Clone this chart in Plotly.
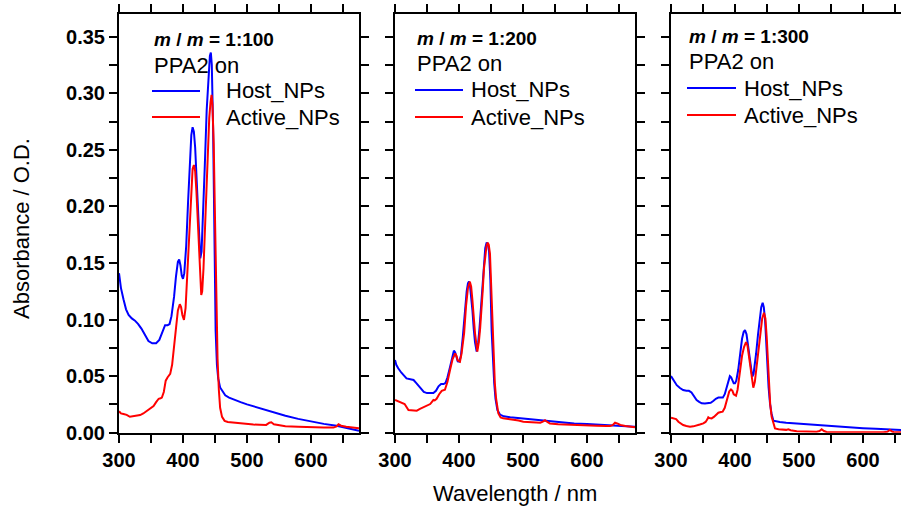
import plotly.graph_objects as go

# ---------------- data ----------------
panel_labels = ["1:100", "1:200", "1:300"]
series_names = ["Host_NPs", "Active_NPs"]

wl_host_1 = [300, 303, 307, 311, 315, 320, 325, 330, 335, 340, 346, 352, 358, 363, 368, 372, 376, 379, 382, 386,
             389, 392, 394, 396, 398, 400, 402, 405, 408, 411, 413, 415, 417, 419, 421, 423, 425, 427, 429, 431,
             434, 437, 440, 442, 443.5, 445, 447, 449, 451, 453, 455, 458, 462, 466, 472, 480, 490, 500, 520, 540,
             560, 580, 600, 620, 640, 660, 675]
abs_host_1 = [0.141, 0.128, 0.118, 0.109, 0.104, 0.101, 0.099, 0.096, 0.092, 0.087, 0.081, 0.079, 0.079, 0.082, 0.089, 0.095, 0.095, 0.096, 0.103, 0.120,
              0.138, 0.151, 0.153, 0.148, 0.139, 0.136, 0.141, 0.165, 0.205, 0.245, 0.263, 0.270, 0.266, 0.252, 0.228, 0.197, 0.168, 0.154, 0.160, 0.185,
              0.235, 0.285, 0.322, 0.333, 0.336, 0.325, 0.270, 0.170, 0.090, 0.060, 0.048, 0.040, 0.036, 0.033, 0.031, 0.029, 0.027, 0.025, 0.0215, 0.018,
              0.0150, 0.0122, 0.0097, 0.0078, 0.0062, 0.0038, 0.0018]

wl_act_1 = [300, 303, 307, 312, 317, 322, 328, 333, 338, 343, 348, 354, 358, 362, 365, 367, 370, 373, 376, 380,
            383, 386, 389, 392, 395, 397, 399, 401.5, 404, 407, 410, 413, 415, 417, 419, 421, 423, 425, 427, 428.5,
            430, 432, 435, 438, 441, 443, 444.6, 446, 448, 450, 452, 454, 456, 458, 461, 465, 470, 480, 490, 500,
            510, 520, 530, 535, 538, 542, 550, 560, 580, 600, 620, 635, 640, 643, 647, 655, 665, 675]
abs_act_1 = [0.0190, 0.0170, 0.0165, 0.0158, 0.0141, 0.0145, 0.0150, 0.0156, 0.0170, 0.0190, 0.0210, 0.0235, 0.0270, 0.0300, 0.0305, 0.0310, 0.0360, 0.0460, 0.0490, 0.0520,
             0.060, 0.075, 0.092, 0.108, 0.1135, 0.111, 0.104, 0.0996, 0.110, 0.145, 0.185, 0.220, 0.233, 0.2366, 0.231, 0.213, 0.188, 0.158, 0.130, 0.1217,
             0.125, 0.145, 0.190, 0.240, 0.278, 0.292, 0.2985, 0.290, 0.255, 0.190, 0.115, 0.065, 0.038, 0.022, 0.014, 0.0105, 0.0095, 0.0088, 0.0080, 0.0074,
             0.0072, 0.0070, 0.0069, 0.0088, 0.0092, 0.0075, 0.0065, 0.0058, 0.0053, 0.0047, 0.0045, 0.0045, 0.0055, 0.0074, 0.0062, 0.0052, 0.0045, 0.0039]

wl_host_2 = [300, 302, 305, 310, 318, 324, 329, 333, 337, 341, 345, 350, 355, 360, 364, 368, 372, 376, 379, 382,
             386, 389, 392, 394, 396, 398, 400.5, 403, 406, 409, 412, 414, 415.6, 417, 419, 421, 423, 425, 427.6, 430,
             432, 435, 438, 441, 443.2, 445, 447, 449, 451, 453, 455, 457, 460, 464, 470, 480, 490, 500, 520, 537,
             560, 580, 600, 620, 640, 660, 675]
abs_host_2 = [0.0642, 0.060, 0.0569, 0.053, 0.048, 0.047, 0.0466, 0.044, 0.041, 0.038, 0.036, 0.035, 0.0348, 0.035, 0.037, 0.041, 0.043, 0.043, 0.044, 0.049,
              0.058, 0.066, 0.0725, 0.071, 0.067, 0.063, 0.0628, 0.068, 0.085, 0.108, 0.125, 0.132, 0.1335, 0.131, 0.122, 0.108, 0.092, 0.080, 0.0716, 0.080,
              0.092, 0.117, 0.145, 0.163, 0.168, 0.167, 0.160, 0.135, 0.090, 0.062, 0.044, 0.030, 0.020, 0.0160, 0.0145, 0.0136, 0.0130, 0.0124, 0.0113, 0.0103,
              0.0090, 0.0082, 0.0077, 0.0072, 0.0066, 0.0059, 0.0053]

wl_act_2 = [300, 305, 310, 315, 321, 328, 334, 339, 344, 350, 355, 358, 360, 362, 365, 369, 373, 378, 382, 386,
            390, 394, 396, 398, 401.5, 404, 408, 411, 414, 417, 419, 421, 423, 425, 428.6, 431, 433, 435, 437, 439,
            441, 443, 444.8, 446.5, 448.4, 450.5, 452.6, 454.5, 456, 458, 461.5, 465, 469, 477, 485, 493, 500.5, 510, 520, 527,
            531, 534.4, 538, 542, 555, 578.6, 600, 615, 630, 636, 640, 643.8, 648, 652, 660, 675]
abs_act_2 = [0.0289, 0.0275, 0.0265, 0.0253, 0.0200, 0.0195, 0.0195, 0.0210, 0.0224, 0.0240, 0.0253, 0.0275, 0.0289, 0.0285, 0.0300, 0.0340, 0.0370, 0.0380, 0.0450, 0.0554,
             0.065, 0.070, 0.068, 0.064, 0.0628, 0.070, 0.088, 0.112, 0.128, 0.1335, 0.129, 0.117, 0.102, 0.088, 0.0716, 0.080, 0.092, 0.106, 0.125, 0.145,
             0.158, 0.165, 0.168, 0.166, 0.158, 0.125, 0.088, 0.060, 0.0436, 0.030, 0.017, 0.0135, 0.0127, 0.0122, 0.0118, 0.0108, 0.0097, 0.0093, 0.0090, 0.0088,
             0.0098, 0.0110, 0.0095, 0.0082, 0.0075, 0.0068, 0.0064, 0.0062, 0.0060, 0.0059, 0.0066, 0.0088, 0.0080, 0.0068, 0.0060, 0.0047]

wl_host_3 = [300, 304, 309, 314, 319, 324, 328, 332, 336, 340, 344, 348, 353, 358, 362, 366, 370, 374, 378, 381,
             384, 387, 390, 392, 394, 396, 398, 400, 402, 405, 408, 411, 413.5, 415.6, 418, 420.8, 423, 425, 427, 429,
             431, 433, 436, 439, 441, 443.2, 445, 447, 449, 450.5, 452.5, 454.7, 457, 460, 465, 470, 480, 500, 520, 540,
             560, 580, 600, 620, 640, 660]
abs_host_3 = [0.050, 0.046, 0.042, 0.0395, 0.0377, 0.037, 0.037, 0.0355, 0.032, 0.0289, 0.0272, 0.026, 0.0258, 0.026, 0.0265, 0.028, 0.030, 0.031, 0.031, 0.031,
              0.034, 0.0407, 0.047, 0.050, 0.049, 0.046, 0.0436, 0.0436, 0.046, 0.0554, 0.070, 0.083, 0.089, 0.0907, 0.087, 0.076, 0.065, 0.056, 0.0495, 0.052,
              0.060, 0.070, 0.087, 0.103, 0.111, 0.1149, 0.111, 0.0996, 0.078, 0.058, 0.040, 0.026, 0.017, 0.0106, 0.0098, 0.0095, 0.0088, 0.0079, 0.0070, 0.0062,
              0.0055, 0.0047, 0.0040, 0.0034, 0.0028, 0.0024]

wl_act_3 = [300, 304, 308, 311.5, 315, 319, 324, 329.7, 335, 340, 345, 350.5, 354, 357, 358.3, 360, 363.5, 367, 371, 374,
            378, 380.7, 384, 388, 391, 393.7, 396, 398, 401.6, 404, 407.8, 411, 414, 415.6, 417.2, 419.5, 422.4, 425, 427, 428.6,
            431, 434.9, 438, 440, 442.5, 445.3, 447.5, 449.5, 451.5, 453, 455, 457.3, 460, 462.5, 468, 475.5, 480, 483.3, 487, 496.4,
            510, 527.6, 532, 535.4, 539, 543, 560, 579.7, 600, 631.8, 638, 642, 646, 650, 659.4]
abs_act_3 = [0.0133, 0.0125, 0.0120, 0.0097, 0.0085, 0.0068, 0.0060, 0.0053, 0.0056, 0.0062, 0.0072, 0.0082, 0.0095, 0.0120, 0.0136, 0.0130, 0.0127, 0.0140, 0.0165, 0.0177,
             0.0183, 0.0186, 0.0220, 0.0318, 0.0365, 0.0383, 0.0370, 0.0340, 0.0327, 0.0380, 0.0554, 0.0680, 0.0755, 0.0775, 0.0800, 0.0770, 0.0640, 0.0520, 0.0440, 0.0398,
             0.045, 0.064, 0.082, 0.091, 0.101, 0.106, 0.101, 0.085, 0.062, 0.0407, 0.025, 0.0141, 0.0075, 0.0038, 0.0030, 0.0024, 0.0025, 0.0030, 0.0022, 0.0012,
             0.0010, 0.0009, 0.0015, 0.0030, 0.0015, 0.0006, 0.0004, 0.0003, 0.0003, 0.0003, 0.0008, 0.0024, 0.0008, 0.0003, 0.0003]

x_ticks = [300, 400, 500, 600]
y_ticks = [0.00, 0.05, 0.10, 0.15, 0.20, 0.25, 0.30, 0.35]
y_tick_text = ["0.00", "0.05", "0.10", "0.15", "0.20", "0.25", "0.30", "0.35"]

panels = [
    (wl_host_1, abs_host_1, wl_act_1, abs_act_1),
    (wl_host_2, abs_host_2, wl_act_2, abs_act_2),
    (wl_host_3, abs_host_3, wl_act_3, abs_act_3),
]
for a, b, c, d in panels:
    assert len(a) == len(b), (len(a), len(b))
    assert len(c) == len(d), (len(c), len(d))

# ---------------- layout geometry ----------------
W, H = 901, 506
COL_HOST = "#0000FF"
COL_ACT = "#FF0000"
FONT = "Liberation Sans, Arial, sans-serif"

x_px = [(119, 359), (395, 635), (671, 901)]
x_ranges = [[300, 675], [300, 675], [300, 300 + 230 / 0.64]]
y_top, y_bot = 14, 432.7
y_range = [0, 0.37]

fig = go.Figure()

for i, (wh, ah, wa, aa) in enumerate(panels):
    n = "" if i == 0 else str(i + 1)
    fig.add_trace(go.Scatter(x=wh, y=ah, mode="lines", name=series_names[0],
                             line=dict(color=COL_HOST, width=2), xaxis="x" + n, yaxis="y" + n,
                             showlegend=False))
    fig.add_trace(go.Scatter(x=wa, y=aa, mode="lines", name=series_names[1],
                             line=dict(color=COL_ACT, width=2), xaxis="x" + n, yaxis="y" + n,
                             showlegend=False))

    xa = dict(domain=[x_px[i][0] / W, x_px[i][1] / W], range=x_ranges[i], anchor="y" + n,
              automargin=False,
              tickvals=x_ticks, ticks="outside", ticklen=8, tickwidth=2, tickcolor="black",
              minor=dict(dtick=50, tick0=0, ticks="outside", ticklen=8, tickwidth=2, tickcolor="black"),
              showline=True, linewidth=2, linecolor="black", mirror="ticks",
              showgrid=False, zeroline=False,
              tickfont=dict(family=FONT, size=20, color="black", weight="bold"))
    ya = dict(domain=[1 - y_bot / H, 1 - y_top / H], range=y_range, anchor="x" + n,
              automargin=False,
              tickvals=y_ticks, ticktext=y_tick_text, ticks="outside", ticklen=8, tickwidth=2, tickcolor="black",
              minor=dict(dtick=0.025, tick0=0, ticks="outside", ticklen=8, tickwidth=2, tickcolor="black"),
              showline=True, linewidth=2, linecolor="black", mirror=("ticks" if i < 2 else False),
              showgrid=False, zeroline=False, showticklabels=(i == 0),
              tickfont=dict(family=FONT, size=20, color="black", weight="bold"))
    fig.layout["xaxis" + n] = xa
    fig.layout["yaxis" + n] = ya

# ---------------- in-panel labels and legends ----------------
text_x = [152, 415, 687]
line_x = [(152, 200), (415, 463), (687, 736)]
legend_text_x = [224, 469, 742]
rows_y = [(39, 65, 91, 117), (38, 64, 90, 117), (36, 62, 88, 115)]

annotations = []
shapes = []
for i in range(3):
    ym, yp, yh, ya_ = rows_y[i]
    annotations.append(dict(x=text_x[i] / W, y=1 - ym / H, xref="paper", yref="paper",
                            xanchor="left", yanchor="middle", showarrow=False,
                            text="<b><i>m</i> / <i>m</i> = " + panel_labels[i] + "</b>",
                            font=dict(family=FONT, size=19, color="black")))
    annotations.append(dict(x=text_x[i] / W, y=1 - yp / H, xref="paper", yref="paper",
                            xanchor="left", yanchor="middle", showarrow=False,
                            text="PPA2 on", font=dict(family=FONT, size=22, color="black")))
    for name, col, yy in [(series_names[0], COL_HOST, yh), (series_names[1], COL_ACT, ya_)]:
        shapes.append(dict(type="line", xref="paper", yref="paper",
                           x0=line_x[i][0] / W, x1=line_x[i][1] / W, y0=1 - yy / H, y1=1 - yy / H,
                           line=dict(color=col, width=2)))
        annotations.append(dict(x=legend_text_x[i] / W, y=1 - yy / H, xref="paper", yref="paper",
                                xanchor="left", yanchor="middle", showarrow=False,
                                text=name, font=dict(family=FONT, size=22, color="black")))

annotations.append(dict(x=21 / W, y=1 - 229 / H, xref="paper", yref="paper", textangle=-90,
                        xanchor="center", yanchor="middle", showarrow=False,
                        text="Absorbance / O.D.", font=dict(family=FONT, size=22, color="black")))
annotations.append(dict(x=515 / W, y=1 - 493 / H, xref="paper", yref="paper",
                        xanchor="center", yanchor="middle", showarrow=False,
                        text="Wavelength / nm", font=dict(family=FONT, size=22, color="black")))

fig.update_layout(width=W, height=H, margin=dict(l=0, r=0, t=0, b=0),
                  paper_bgcolor="white", plot_bgcolor="white",
                  annotations=annotations, shapes=shapes, showlegend=False)

fig.write_html("out.html")
